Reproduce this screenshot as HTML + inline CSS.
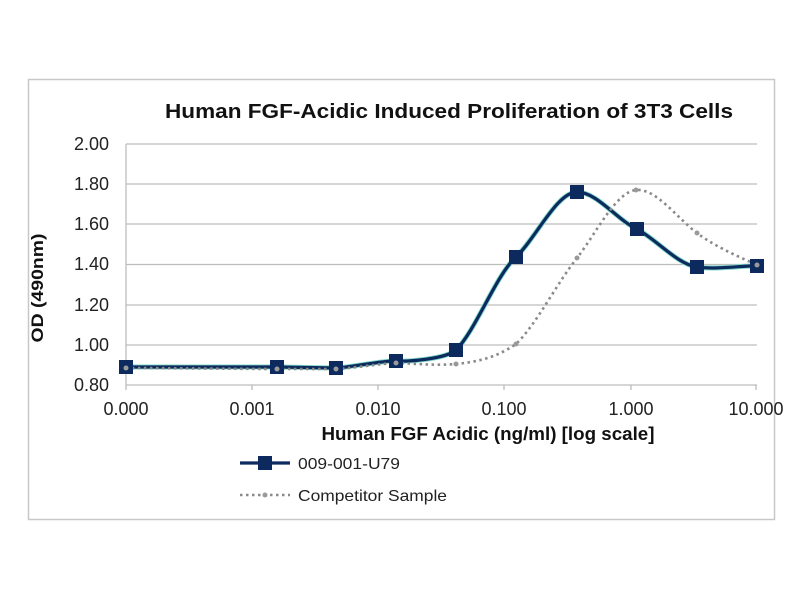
<!DOCTYPE html>
<html><head><meta charset="utf-8"><style>
body{margin:0;background:#fff;width:800px;height:600px;overflow:hidden}
text{font-family:"Liberation Sans",sans-serif}
</style></head><body>
<svg width="800" height="600" viewBox="0 0 800 600">
<rect x="28.5" y="79.5" width="746" height="440" fill="#fff" stroke="#c8c8c8" stroke-width="1.5"/>
<text x="449" y="118" font-size="20" font-weight="bold" text-anchor="middle" fill="#111" textLength="568" lengthAdjust="spacingAndGlyphs">Human FGF-Acidic Induced Proliferation of 3T3 Cells</text>
<g stroke="#bdbdbd" stroke-width="1.3">
<line x1="126" y1="144" x2="757" y2="144"/><line x1="126" y1="184" x2="757" y2="184"/>
<line x1="126" y1="224" x2="757" y2="224"/><line x1="126" y1="264.5" x2="757" y2="264.5"/>
<line x1="126" y1="305" x2="757" y2="305"/><line x1="126" y1="345" x2="757" y2="345"/>
<line x1="126" y1="385" x2="757" y2="385"/>
<line x1="126" y1="144" x2="126" y2="390"/>
<line x1="252" y1="385" x2="252" y2="390"/><line x1="378" y1="385" x2="378" y2="390"/>
<line x1="504" y1="385" x2="504" y2="390"/><line x1="631" y1="385" x2="631" y2="390"/>
<line x1="756" y1="385" x2="756" y2="390"/>
</g>
<g font-size="18" fill="#222" text-anchor="end">
<text x="109" y="150">2.00</text><text x="109" y="190">1.80</text><text x="109" y="230">1.60</text>
<text x="109" y="270">1.40</text><text x="109" y="311">1.20</text><text x="109" y="351">1.00</text>
<text x="109" y="391">0.80</text>
</g>
<g font-size="18" fill="#222" text-anchor="middle">
<text x="126" y="415">0.000</text><text x="252" y="415">0.001</text><text x="378" y="415">0.010</text>
<text x="504" y="415">0.100</text><text x="631" y="415">1.000</text><text x="756" y="415">10.000</text>
</g>
<text x="488" y="440" font-size="18" font-weight="bold" text-anchor="middle" fill="#111" textLength="333" lengthAdjust="spacingAndGlyphs">Human FGF Acidic (ng/ml) [log scale]</text>
<text transform="translate(43,288) rotate(-90)" font-size="17" font-weight="bold" text-anchor="middle" fill="#111" textLength="109" lengthAdjust="spacingAndGlyphs">OD (490nm)</text>
<path d="M126,367 C151,367 252,367 277,367 C287,367 326,368 336,368 C346,368 386,360 396,361 C406,362 446,359 456,350 C476,330 496,275 516,257 C536,238 557,192 577,192 C597,192 617,220 637,229 C657,240 677,264 697,267 C717,270 747,265 757,266" fill="none" stroke="#7fd8c8" stroke-width="5"/>
<path d="M126,367 C151,367 252,367 277,367 C287,367 326,368 336,368 C346,368 386,360 396,361 C406,362 446,359 456,350 C476,330 496,275 516,257 C536,238 557,192 577,192 C597,192 617,220 637,229 C657,240 677,264 697,267 C717,270 747,265 757,266" fill="none" stroke="#0d2a5e" stroke-width="3.2"/>
<path d="M126,368 C151,368 252,369 277,369 C287,369 326,369 336,369 C346,369 386,363 396,363 C406,363 436,366 456,364 C476,362 496,358 516,344 C536,325 557,283 577,258 C597,232 616,192 636,190 C656,188 677,218 697,233 C717,248 742,258 757,265" fill="none" stroke="#8a8a8a" stroke-width="2.6" stroke-dasharray="2.5 3.5"/>
<g fill="#0d2a5e">
<rect x="119" y="360" width="14" height="14"/><rect x="270" y="360" width="14" height="14"/>
<rect x="329" y="361" width="14" height="14"/><rect x="389" y="354" width="14" height="14"/>
<rect x="449" y="343" width="14" height="14"/><rect x="509" y="250" width="14" height="14"/>
<rect x="570" y="185" width="14" height="14"/><rect x="630" y="222" width="14" height="14"/>
<rect x="690" y="260" width="14" height="14"/><rect x="750" y="259" width="14" height="14"/>
</g>
<g fill="#9a9a9a">
<circle cx="126" cy="368" r="2.5"/><circle cx="277" cy="369" r="2.5"/><circle cx="336" cy="369" r="2.5"/>
<circle cx="396" cy="363" r="2.5"/><circle cx="456" cy="364" r="2.5"/><circle cx="516" cy="344" r="2.5"/>
<circle cx="577" cy="258" r="2.5"/><circle cx="636" cy="190" r="2.5"/><circle cx="697" cy="233" r="2.5"/>
<circle cx="757" cy="265" r="2.5"/>
</g>
<line x1="240" y1="463" x2="290" y2="463" stroke="#0d2a5e" stroke-width="3.2"/>
<rect x="258" y="456" width="14" height="14" fill="#0d2a5e"/>
<text x="298" y="469" font-size="16" fill="#222" textLength="102" lengthAdjust="spacingAndGlyphs">009-001-U79</text>
<line x1="240" y1="495" x2="290" y2="495" stroke="#8a8a8a" stroke-width="2.6" stroke-dasharray="2.5 3.5"/>
<circle cx="265" cy="495" r="2.5" fill="#9a9a9a"/>
<text x="298" y="501" font-size="16" fill="#222" textLength="149" lengthAdjust="spacingAndGlyphs">Competitor Sample</text>
</svg>
</body></html>
